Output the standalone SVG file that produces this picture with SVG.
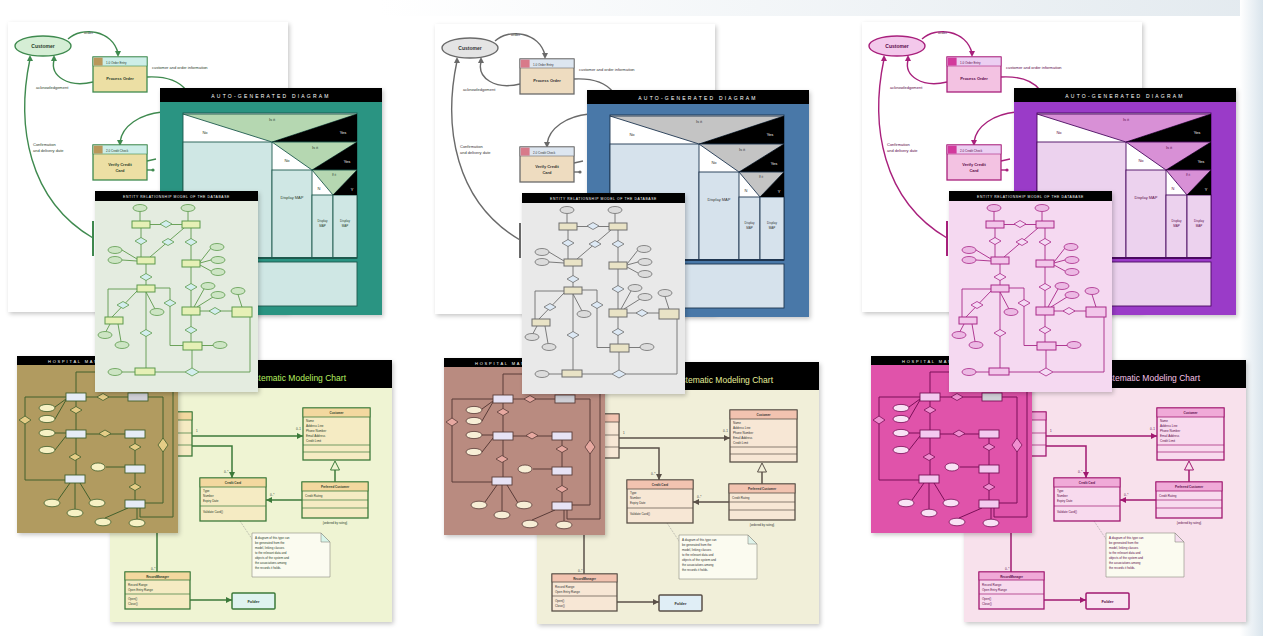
<svg xmlns="http://www.w3.org/2000/svg" width="1263" height="636" viewBox="0 0 1263 636">
<defs>
<style>
.f{font-family:"Liberation Sans",Arial,sans-serif}
.tx{fill:var(--tx)}
.ln{stroke:var(--ln);fill:none;stroke-width:1.4}
.af{fill:var(--ln)}
.el{fill:var(--el);stroke:var(--ln);stroke-width:1.4}
.pb{fill:var(--pb);stroke:var(--ln);stroke-width:1.3}
.ph{fill:var(--ph);stroke:var(--ln);stroke-width:0.6}
.sq{fill:var(--sq)}
.fr{fill:var(--fr)}
.dk{stroke:var(--dk);stroke-width:0.9}
.tri{fill:var(--tri);stroke:var(--dk);stroke-width:0.9}
.cr{fill:var(--cr);stroke:var(--dk);stroke-width:0.9}
.cb{fill:var(--cb)}
.er{fill:var(--cr1);stroke:var(--cs);stroke-width:1}
.ed{fill:var(--cd);stroke:var(--cs);stroke-width:0.8}
.ee{fill:var(--ce);stroke:var(--cs);stroke-width:0.8}
.cl{stroke:var(--cs);stroke-width:0.9;fill:none}
.db{fill:var(--db)}
.dr{fill:var(--dr);stroke:var(--ds);stroke-width:0.9}
.dg{fill:#cfcfd6;stroke:var(--ds);stroke-width:0.9}
.dd{fill:var(--dd);stroke:var(--ds);stroke-width:0.8}
.de{fill:var(--de);stroke:var(--ds);stroke-width:0.8}
.dl{stroke:var(--ds);stroke-width:1;fill:none}
.eb{fill:var(--eb)}
.cbx{fill:var(--ebd);stroke:var(--es);stroke-width:1.3}
.ch{fill:var(--eh);stroke:var(--es);stroke-width:0.8}
.es{stroke:var(--es);stroke-width:1.5;fill:none}
.esf{fill:var(--es)}
.sep{stroke:var(--es);stroke-width:0.7}
.t3{font-size:3px}
.t4{font-size:4px}
.tw{fill:#fff}
</style>
<filter id="sh" x="-6%" y="-6%" width="116%" height="116%">
<feDropShadow dx="1.5" dy="2" stdDeviation="2" flood-color="#000" flood-opacity="0.22"/>
</filter>
<linearGradient id="bgTop" x1="0" y1="0" x2="1" y2="0">
<stop offset="0.3" stop-color="#ffffff"/>
<stop offset="1" stop-color="#e3eaef"/>
</linearGradient>
<linearGradient id="bgR" x1="0" y1="0" x2="1" y2="0">
<stop offset="0" stop-color="#ffffff"/>
<stop offset="1" stop-color="#d9e4ec"/>
</linearGradient>

<g id="collage" class="f">
 <!-- Panel A: data flow diagram -->
 <g id="panelA">
  <rect x="8" y="22" width="280" height="290" fill="#fff" filter="url(#sh)"/>
  <path class="ln" d="M68,39 C82,26 112,30 118,53"/>
  <polygon class="af" points="115,51 121,51 118,57"/>
  <path class="ln" d="M93,82 C68,88 50,76 54,60"/>
  <polygon class="af" points="51,61 57,61 54,55"/>
  <path class="ln" d="M147,77 C166,76 178,80 186,90"/>
  <path class="ln" d="M162,112 C140,114 122,126 120,142"/>
  <polygon class="af" points="117,140 123,140 120,146"/>
  <path class="ln" d="M30,59 C16,125 28,200 93,238"/>
  <polygon class="af" points="27,61 33,61 30,55"/>
  <line class="ln" x1="93" y1="221" x2="93" y2="256" style="stroke-width:2"/>
  <path class="ln" d="M147,161 L156,159"/>
  <path class="ln" d="M147,170 L153,170"/>
  <circle class="af" cx="153" cy="170" r="1.6"/>
  <ellipse class="el" cx="43" cy="46" rx="28" ry="10"/>
  <text class="tx" x="43" y="47.8" font-size="5" font-weight="bold" text-anchor="middle">Customer</text>
  <text class="tx t4" x="84" y="34">order</text>
  <text class="tx t4" x="152" y="69">customer and order information</text>
  <text class="tx t4" x="36" y="89">acknowledgement</text>
  <text class="tx t4" x="33" y="146">Confirmation</text>
  <text class="tx t4" x="33" y="152">and delivery date</text>
  <g id="procOrder">
   <rect class="pb" x="93" y="57" width="54" height="35"/>
   <rect class="ph" x="93" y="57" width="54" height="9"/>
   <rect class="sq" x="93.6" y="57.6" width="9" height="8"/>
   <text class="tx t3" x="106" y="63.5">1.0 Order Entry</text>
   <text class="tx t4" x="120" y="80" text-anchor="middle" font-weight="bold">Process Order</text>
  </g>
  <g id="procCredit">
   <rect class="pb" x="93" y="145" width="54" height="35"/>
   <rect class="ph" x="93" y="145" width="54" height="9"/>
   <rect class="sq" x="93.6" y="145.6" width="9" height="8"/>
   <text class="tx t3" x="106" y="151.5">2.0 Credit Check</text>
   <text class="tx t4" x="120" y="166" text-anchor="middle" font-weight="bold">Verify Credit</text>
   <text class="tx t4" x="120" y="172" text-anchor="middle" font-weight="bold">Card</text>
  </g>
 </g>

 <!-- Panel B: decision diagram -->
 <g id="panelB">
  <rect class="fr" x="160" y="88" width="222" height="227" filter="url(#sh)"/>
  <rect x="160" y="88" width="222" height="14" fill="#000"/>
  <text class="tw" x="271" y="97.5" font-size="5" letter-spacing="2.2" text-anchor="middle">AUTO-GENERATED DIAGRAM</text>
  <rect x="183" y="113" width="174" height="145" fill="#fff" class="dk"/>
  <rect class="cr" x="183" y="142" width="89" height="116"/>
  <polygon class="tri" points="183,114 357,114 272,142"/>
  <polygon fill="#000" points="272,142 357,114 357,142"/>
  <rect class="cr" x="272" y="170" width="40" height="88"/>
  <polygon class="tri" points="272,142 357,142 312,170"/>
  <polygon fill="#000" points="312,170 357,142 357,170"/>
  <rect class="cr" x="312" y="195" width="21" height="63"/>
  <rect class="cr" x="333" y="195" width="24" height="63"/>
  <polygon class="tri" points="312,170 357,170 333,195"/>
  <polygon fill="#000" points="333,195 357,170 357,195"/>
  <line class="dk" x1="183" y1="258" x2="357" y2="258" style="stroke-width:2"/>
  <rect class="cr" x="183" y="262" width="174" height="44"/>
  <text class="tx t4" x="272" y="121" text-anchor="middle">Is it</text>
  <text class="tw t4" x="343" y="134" text-anchor="middle">Yes</text>
  <text class="tx t4" x="205" y="134" text-anchor="middle">No</text>
  <text class="tx t4" x="315" y="149" text-anchor="middle">Is it</text>
  <text class="tw t4" x="347" y="163" text-anchor="middle">Yes</text>
  <text class="tx t4" x="287" y="162" text-anchor="middle">No</text>
  <text class="tx t3" x="334" y="176" text-anchor="middle">If it</text>
  <text class="tx t4" x="319" y="190" text-anchor="middle">N</text>
  <text class="tw t4" x="352" y="191" text-anchor="middle">Y</text>
  <text class="tx t4" x="292" y="199" text-anchor="middle">Display MAP</text>
  <text class="tx t3" x="322.5" y="222" text-anchor="middle">Display</text>
  <text class="tx t3" x="322.5" y="227" text-anchor="middle">MAP</text>
  <text class="tx t3" x="345" y="222" text-anchor="middle">Display</text>
  <text class="tx t3" x="345" y="227" text-anchor="middle">MAP</text>
 </g>

 <!-- Panel E: class diagram -->
 <g id="panelE">
  <rect class="eb" x="110" y="360" width="282" height="262" filter="url(#sh)"/>
  <rect x="110" y="360" width="282" height="28" fill="#000"/>
  <text x="346" y="381" font-size="8.5" text-anchor="end" style="fill:var(--tt)">Systematic Modeling Chart</text>
  <path class="es" d="M192,436 H303"/>
  <polygon class="esf" points="297,433 303,436 297,439"/>
  <path class="es" d="M192,446 H232 V478"/>
  <polygon class="esf" points="229,472 232,478 235,472"/>
  <path class="es" d="M302,500 H266"/>
  <polygon class="esf" points="272,497 266,500 272,503"/>
  <path class="es" d="M335,482 V470"/>
  <polygon points="330.5,470 339.5,470 335,461" fill="#fff" class="es" style="stroke-width:1"/>
  <path class="es" d="M157,533 V572"/>
  <path class="es" d="M190,600 H232"/>
  <polygon class="esf" points="226,597 232,600 226,603"/>
  <path d="M240,521 L256,545" stroke="#888" stroke-width="0.6" stroke-dasharray="1,1" fill="none"/>
  <text class="tx t3" x="196" y="432">1</text>
  <text class="tx t3" x="296" y="430">0..1</text>
  <text class="tx t3" x="224" y="473">0..*</text>
  <text class="tx t3" x="270" y="496">0..*</text>
  <text class="tx t3" x="151" y="570">0..*</text>
  <g id="partialClass">
   <rect class="cbx" x="177" y="412" width="15" height="44"/>
   <rect class="ch" x="177" y="412" width="15" height="8"/>
   <line class="sep" x1="177" y1="433" x2="192" y2="433"/>
   <line class="sep" x1="177" y1="445" x2="192" y2="445"/>
  </g>
  <g id="clsCustomer">
   <rect class="cbx" x="303" y="408" width="67" height="52"/>
   <rect class="ch" x="303" y="408" width="67" height="9"/>
   <text class="tx t3" x="336.5" y="414.3" text-anchor="middle" font-weight="bold">Customer</text>
   <text class="tx t3" x="306" y="422">Name</text>
   <text class="tx t3" x="306" y="427">Address Line</text>
   <text class="tx t3" x="306" y="432">Phone Number</text>
   <text class="tx t3" x="306" y="437">Email Address</text>
   <text class="tx t3" x="306" y="442">Credit Limit</text>
   <line class="sep" x1="303" y1="445" x2="370" y2="445"/>
   <line class="sep" x1="303" y1="452" x2="370" y2="452"/>
  </g>
  <g id="clsCredit">
   <rect class="cbx" x="200" y="478" width="66" height="43"/>
   <rect class="ch" x="200" y="478" width="66" height="9"/>
   <text class="tx t3" x="233" y="484.3" text-anchor="middle" font-weight="bold">Credit Card</text>
   <text class="tx t3" x="203" y="492">Type</text>
   <text class="tx t3" x="203" y="497">Number</text>
   <text class="tx t3" x="203" y="502">Expiry Date</text>
   <line class="sep" x1="200" y1="506" x2="266" y2="506"/>
   <text class="tx t3" x="203" y="513">Validate Card()</text>
  </g>
  <g id="clsPreferred">
   <rect class="cbx" x="302" y="482" width="66" height="36"/>
   <rect class="ch" x="302" y="482" width="66" height="9"/>
   <text class="tx t3" x="335" y="488.3" text-anchor="middle" font-weight="bold">Preferred Customer</text>
   <text class="tx t3" x="305" y="497">Credit Rating</text>
   <line class="sep" x1="302" y1="500" x2="368" y2="500"/>
   <line class="sep" x1="302" y1="508" x2="368" y2="508"/>
   <text class="tx t3" x="335" y="524" text-anchor="middle">{ordered by rating}</text>
  </g>
  <g id="note">
   <path d="M252,533 H321 L330,542 V577 H252 Z" fill="#fbfbf0" stroke="#8a8a80" stroke-width="0.6"/>
   <path d="M321,533 V542 H330 Z" style="fill:var(--nt)" stroke="#8a8a80" stroke-width="0.6"/>
   <text class="tx t3" x="255" y="539">A diagram of this type can</text>
   <text class="tx t3" x="255" y="544">be generated from the</text>
   <text class="tx t3" x="255" y="549">model, linking classes</text>
   <text class="tx t3" x="255" y="554">to the relevant data and</text>
   <text class="tx t3" x="255" y="559">objects of the system and</text>
   <text class="tx t3" x="255" y="564">the associations among</text>
   <text class="tx t3" x="255" y="569">the records it holds.</text>
  </g>
  <g id="clsRecord">
   <rect class="cbx" x="125" y="572" width="65" height="37"/>
   <rect class="ch" x="125" y="572" width="65" height="8"/>
   <text class="tx t3" x="157.5" y="577.8" text-anchor="middle" font-weight="bold">RecordManager</text>
   <text class="tx t3" x="128" y="586">Record Range</text>
   <text class="tx t3" x="128" y="591">Open Entry Range</text>
   <line class="sep" x1="125" y1="594" x2="190" y2="594"/>
   <text class="tx t3" x="128" y="600">Open()</text>
   <text class="tx t3" x="128" y="605">Close()</text>
  </g>
  <g id="folder">
   <rect x="232" y="593" width="43" height="16" rx="1" style="fill:var(--fo)" class="es"/>
   <text class="tx t4" x="253.5" y="602.5" text-anchor="middle" font-weight="bold">Folder</text>
  </g>
 </g>

 <!-- Panel D: hospital ER diagram -->
 <g id="panelD">
  <rect class="db" x="17" y="356" width="161" height="177" filter="url(#sh)"/>
  <rect x="17" y="356" width="161" height="9" fill="#000"/>
  <text class="tw" x="48" y="362.5" font-size="4" letter-spacing="1.8">HOSPITAL MANAGEMENT</text>
  <path class="dl" d="M66,397 H25 V480 H65 M86,397 H128 M76,401 V430 M76,438 V475 M86,434 H125 M135,438 V465 M135,473 V500 M148,397 H163 V503 H145 M173,368 V517 H140 V508 M55,407 L66,399 M55,419 L66,400 M55,433 H66 M55,450 L66,436 M106,467 H125 M58,500 L70,483 M75,509 V483 M91,501 L80,483 M105,518 L128,508 M137,519 V508 M76,393 V372 H120"/>
  <rect class="dr" x="66" y="393" width="20" height="8"/>
  <rect class="dg" x="128" y="393" width="20" height="8"/>
  <rect class="dr" x="66" y="430" width="20" height="8"/>
  <rect class="dr" x="125" y="430" width="20" height="8"/>
  <rect class="dr" x="125" y="465" width="20" height="8"/>
  <rect class="dr" x="65" y="475" width="20" height="8"/>
  <rect class="dr" x="125" y="500" width="20" height="8"/>
  <polygon class="dd" points="97,397 103,393.5 109,397 103,400.5"/>
  <polygon class="dd" points="19,420 25,416 31,420 25,424"/>
  <polygon class="dd" points="70,410 76,406.5 82,410 76,413.5"/>
  <polygon class="dd" points="99,433.5 105,430 111,433.5 105,437"/>
  <polygon class="dd" points="129,447 135,443.5 141,447 135,450.5"/>
  <polygon class="dd" points="69,457 75,453.5 81,457 75,460.5"/>
  <polygon class="dd" points="129,487 135,483.5 141,487 135,490.5"/>
  <polygon class="dd" points="158,445 163,438 168,445 163,452"/>
  <ellipse class="de" cx="47" cy="408" rx="8" ry="3.6"/>
  <ellipse class="de" cx="47" cy="419" rx="8" ry="3.6"/>
  <ellipse class="de" cx="47" cy="433" rx="8" ry="3.6"/>
  <ellipse class="de" cx="47" cy="450" rx="8" ry="3.6"/>
  <ellipse class="de" cx="98" cy="467" rx="7" ry="4"/>
  <ellipse class="de" cx="52" cy="503" rx="8" ry="3.8"/>
  <ellipse class="de" cx="75" cy="513" rx="8" ry="3.8"/>
  <ellipse class="de" cx="97" cy="503" rx="8" ry="3.8"/>
  <ellipse class="de" cx="103" cy="522" rx="8" ry="3.8"/>
  <ellipse class="de" cx="137" cy="523" rx="8" ry="3.8"/>
 </g>

 <!-- Panel C: ER diagram -->
 <g id="panelC">
  <rect class="cb" x="95" y="191" width="163" height="201" filter="url(#sh)"/>
  <rect x="95" y="191" width="163" height="10" fill="#000"/>
  <text class="tw" x="176.5" y="197.5" font-size="3.4" letter-spacing="0.6" text-anchor="middle">ENTITY RELATIONSHIP MODEL OF THE DATABASE</text>
  <path class="cl" d="M140,211.5 V221 M188,211.5 V221 M150,224.5 H182 M141,228 V257 M184,228 L150,257 M191,228 V260 M122,250 L137,259 M122,260 L137,261 M200,262 L211,248 M200,263 L211,260 M200,265 L211,271 M146,264 V285 M191,267 V307 M194,307 L204,289 M197,307 L213,297 M200,311 H232 M238,294.5 L242,307 M137,289 H108 V317 M137,291 L112,317 M155,288 H170 V345.5 H183 M146,292 L155,309 M146,292 V368 M110,324 L106,331.5 M118,324 L121,341.5 M191,315 V342 M202,345.5 H213 M192,350 V368 M185,372 H155 M199,372 H250 V317 M122,372 H135"/>
  <ellipse class="ee" cx="140" cy="208" rx="7" ry="3.5"/>
  <ellipse class="ee" cx="188" cy="208" rx="7" ry="3.5"/>
  <ellipse class="ee" cx="115" cy="250" rx="7" ry="3.5"/>
  <ellipse class="ee" cx="115" cy="260" rx="7" ry="3.5"/>
  <ellipse class="ee" cx="217" cy="247" rx="7" ry="3.5"/>
  <ellipse class="ee" cx="218" cy="260" rx="7" ry="3.5"/>
  <ellipse class="ee" cx="218" cy="272" rx="7" ry="3.5"/>
  <ellipse class="ee" cx="208" cy="286" rx="7" ry="3.5"/>
  <ellipse class="ee" cx="218" cy="295" rx="7" ry="3.5"/>
  <ellipse class="ee" cx="238" cy="291" rx="7" ry="3.5"/>
  <ellipse class="ee" cx="157" cy="312" rx="7" ry="3.5"/>
  <ellipse class="ee" cx="105" cy="335" rx="7" ry="3.5"/>
  <ellipse class="ee" cx="122" cy="345" rx="7" ry="3.5"/>
  <ellipse class="ee" cx="220" cy="345" rx="7" ry="3.5"/>
  <ellipse class="ee" cx="115" cy="372" rx="7" ry="3.5"/>
  <polygon class="ed" points="160,224 166,220.5 172,224 166,227.5"/>
  <polygon class="ed" points="135,241 141,237.5 147,241 141,244.5"/>
  <polygon class="ed" points="162,242 168,238.5 174,242 168,245.5"/>
  <polygon class="ed" points="185,242 191,238.5 197,242 191,245.5"/>
  <polygon class="ed" points="140,277 146,273.5 152,277 146,280.5"/>
  <polygon class="ed" points="185,287 191,283.5 197,287 191,290.5"/>
  <polygon class="ed" points="117,305 123,301.5 129,305 123,308.5"/>
  <polygon class="ed" points="164,303 170,299.5 176,303 170,306.5"/>
  <polygon class="ed" points="209,311 215,307.5 221,311 215,314.5"/>
  <polygon class="ed" points="140,333 146,329.5 152,333 146,336.5"/>
  <polygon class="ed" points="185,330 191,326.5 197,330 191,333.5"/>
  <polygon class="ed" points="185,372 192,368 199,372 192,376"/>
  <rect class="er" x="132" y="221" width="18" height="7"/>
  <rect class="er" x="182" y="221" width="18" height="7"/>
  <rect class="er" x="137" y="257" width="18" height="7"/>
  <rect class="er" x="182" y="260" width="18" height="7"/>
  <rect class="er" x="137" y="285" width="18" height="7"/>
  <rect class="er" x="182" y="307" width="18" height="8"/>
  <rect class="er" x="232" y="307" width="20" height="10"/>
  <rect class="er" x="105" y="317" width="18" height="7"/>
  <rect class="er" x="183" y="342" width="19" height="8"/>
  <rect class="er" x="135" y="368" width="20" height="7"/>
 </g>
</g>
</defs>

<rect x="0" y="0" width="1263" height="636" fill="#fff"/>
<rect x="0" y="0" width="1263" height="16" fill="url(#bgTop)"/>
<rect x="1240" y="0" width="23" height="636" fill="url(#bgR)"/>

<use id="themeGreen" href="#collage" style="--ln:#3f8a4f;--tx:#2a3d2a;--el:#d5eed5;--pb:#ecdfa4;--ph:#cdeee8;--sq:#b9975a;--fr:#2b9482;--dk:#1e5a4e;--tri:#b5d7b1;--cr:#cfe7e4;--cb:#e4ece0;--cr1:#e6f0b6;--cd:#d3eeee;--ce:#cde5c4;--cs:#5d9a4c;--db:#b19b60;--dr:#e6ecf6;--dd:#e5cd87;--de:#f7f1c4;--ds:#42602c;--eb:#eff4d3;--eh:#f3d89f;--ebd:#f5ebc3;--es:#3c7a3a;--tt:#b8f060;--fo:#dff3f0;--nt:#d8f5ea"/>
<use id="themeGrey" href="#collage" transform="translate(427,2)" style="--ln:#6a6a6a;--tx:#333333;--el:#e4e4e4;--pb:#eedcc0;--ph:#dde6f0;--sq:#d87a8a;--fr:#4a78a8;--dk:#1e3550;--tri:#c4c4c4;--cr:#d6e2ec;--cb:#e9e9e9;--cr1:#e9e3c6;--cd:#dde9f5;--ce:#dcdcdc;--cs:#6e6e6e;--db:#b98b80;--dr:#e7e3f5;--dd:#e7a9a1;--de:#f7eed6;--ds:#5a3c38;--eb:#f1efd9;--eh:#f2c3b0;--ebd:#f7e7d5;--es:#5a5048;--tt:#e6ee9a;--fo:#e0eef6;--nt:#dff3ea"/>
<use id="themePink" href="#collage" transform="translate(854,0)" style="--ln:#a8207c;--tx:#5a0a48;--el:#f3c8eb;--pb:#f3c2e2;--ph:#eccff2;--sq:#d2399c;--fr:#9a3ac8;--dk:#4a0a60;--tri:#d890d6;--cr:#ecd2ee;--cb:#f5d9f1;--cr1:#f2c6ea;--cd:#f5dbf5;--ce:#ecb9e4;--cs:#a82888;--db:#e052aa;--dr:#f3c9ef;--dd:#ef8fd0;--de:#f9e2f5;--ds:#7a1058;--eb:#f8e1ec;--eh:#f0aad8;--ebd:#f8daee;--es:#a01870;--tt:#f7c2e8;--fo:#f9e4f2;--nt:#f6def0"/>
</svg>
